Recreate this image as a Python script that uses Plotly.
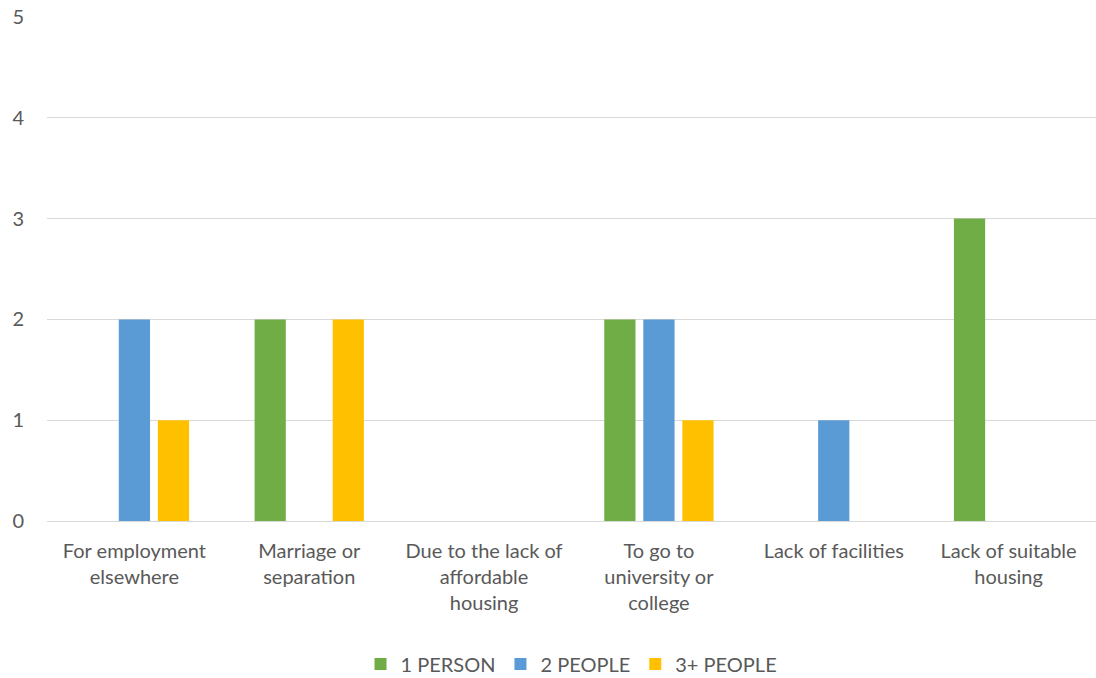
import plotly.graph_objects as go

categories = ["For employment<br>elsewhere", "Marriage or<br>separation",
              "Due to the lack of<br>affordable<br>housing", "To go to<br>university or<br>college",
              "Lack of facilities", "Lack of suitable<br>housing"]
one_person = [0, 2, 0, 2, 0, 3]
two_people = [2, 0, 0, 2, 1, 0]
three_plus = [1, 2, 0, 1, 0, 0]
series_names = ["1 PERSON", "2 PEOPLE", "3+ PEOPLE"]
colors = ["#70AD47", "#5B9BD5", "#FFC000"]

fig = go.Figure()
for name, vals, c in zip(series_names, [one_person, two_people, three_plus], colors):
    fig.add_trace(go.Bar(x=categories, y=vals, name=name, marker=dict(color=c, line=dict(width=0))))

fig.update_layout(
    width=1096, height=678,
    margin=dict(l=47, r=0, t=17, b=157, autoexpand=False),
    paper_bgcolor="white", plot_bgcolor="white",
    barmode="group", bargap=0.33, bargroupgap=0.2,
    font=dict(family="Lato, 'Open Sans', sans-serif", color="#595959", size=20),
    legend=dict(orientation="h", x=0.5, xanchor="center", y=-0.245, yanchor="top",
                font=dict(size=20, color="#595959"), itemwidth=30),
    showlegend=True,
)
fig.update_yaxes(range=[0, 5], dtick=1, showgrid=True, gridcolor="#D9D9D9", gridwidth=1,
                 zeroline=True, zerolinecolor="#D9D9D9", zerolinewidth=1, automargin=False,
                 showline=False, ticks="", tickfont=dict(size=20, color="#595959"), ticklabelstandoff=22)
fig.update_xaxes(showline=False, ticks="", tickfont=dict(size=20, color="#595959"), tickangle=0,
                 ticklabelstandoff=16, automargin=False)

fig.write_html("out.html")
